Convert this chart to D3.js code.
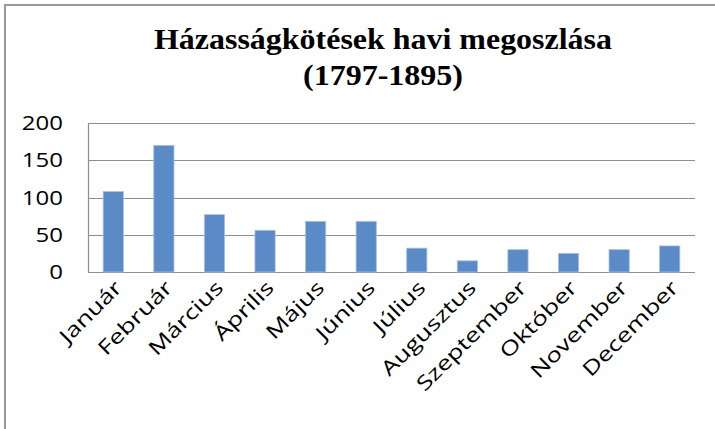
<!DOCTYPE html>
<html>
<head>
<meta charset="utf-8">
<script src="https://cdn.jsdelivr.net/npm/d3@7"></script>
<style>
  body { margin: 0; background: #fff; }
  svg { display: block; }
</style>
</head>
<body>
<svg id="chart"></svg>
<script>
const months = ["Január", "Február", "Március", "Április", "Május", "Június",
  "Július", "Augusztus", "Szeptember", "Október", "November", "December"];
const marriages = [108, 170, 77, 56, 68, 68, 32, 15, 30, 25, 30, 35];
const yTicks = [0, 50, 100, 150, 200];
const titleLines = ["Házasságkötések havi megoszlása", "(1797-1895)"];

const width = 715, height = 429;
const margin = {top: 123, right: 20, bottom: 157, left: 88};

const svg = d3.select('#chart')
    .attr('width', width)
    .attr('height', height);

// outer chart frame (runs past the right / bottom edge like the crop)
svg.append('rect')
    .attr('x', 5).attr('y', 5)
    .attr('width', width + 20).attr('height', height + 20)
    .attr('fill', 'none')
    .attr('stroke', '#999')
    .attr('stroke-width', 2);

const x = d3.scaleBand()
    .domain(months)
    .range([margin.left, width - margin.right])
    .paddingInner(0.6)
    .paddingOuter(0.3);

const y = d3.scaleLinear()
    .domain([0, 200])
    .range([height - margin.bottom, margin.top]);

// gridlines
svg.append('g')
    .attr('stroke', '#8e8e8e')
    .attr('stroke-width', 1.2)
  .selectAll('line')
  .data(yTicks)
  .join('line')
    .attr('x1', margin.left)
    .attr('x2', width - margin.right)
    .attr('y1', d => Math.round(y(d)) + 0.5)
    .attr('y2', d => Math.round(y(d)) + 0.5);

// left axis line
svg.append('line')
    .attr('x1', margin.left + 0.5).attr('x2', margin.left + 0.5)
    .attr('y1', y(200)).attr('y2', y(0))
    .attr('stroke', '#8e8e8e')
    .attr('stroke-width', 1.2);

// bars
svg.append('g')
  .selectAll('rect')
  .data(marriages)
  .join('rect')
    .attr('x', (d, i) => x(months[i]))
    .attr('y', d => y(d))
    .attr('width', x.bandwidth())
    .attr('height', d => y(0) - y(d))
    .attr('fill', '#5b8bc6')
    .attr('stroke', '#a9c1e2')
    .attr('stroke-width', 0.8);

// y axis labels (font is a bit wider in the original, so stretch it)
svg.append('g')
  .selectAll('text')
  .data(yTicks)
  .join('text')
    .attr('transform', d => `translate(${margin.left - 25},${y(d)}) scale(1.2,1)`)
    .attr('dy', '0.35em')
    .attr('text-anchor', 'end')
    .attr('font-family', '"Open Sans", sans-serif')
    .attr('font-size', 20)
    .attr('fill', '#000')
    .text(d => d);

// month labels, rotated
svg.append('g')
  .selectAll('text')
  .data(months)
  .join('text')
    .attr('transform', d => `translate(${x(d) + x.bandwidth() / 2 + 10},${y(0) + 17}) rotate(-45) scale(1.3,1)`)
    .attr('text-anchor', 'end')
    .attr('font-family', '"Open Sans", sans-serif')
    .attr('font-size', 20)
    .attr('fill', '#000')
    .text(d => d);

// title
svg.append('g')
  .selectAll('text')
  .data(titleLines)
  .join('text')
    .attr('x', 383)
    .attr('y', (d, i) => 49 + i * 36)
    .attr('text-anchor', 'middle')
    .attr('font-family', '"Liberation Serif", "Times New Roman", serif')
    .attr('font-weight', 'bold')
    .attr('font-size', 29)
    .attr('textLength', (d, i) => i === 0 ? 458 : 160)
    .attr('lengthAdjust', 'spacingAndGlyphs')
    .text(d => d);
</script>
</body>
</html>
